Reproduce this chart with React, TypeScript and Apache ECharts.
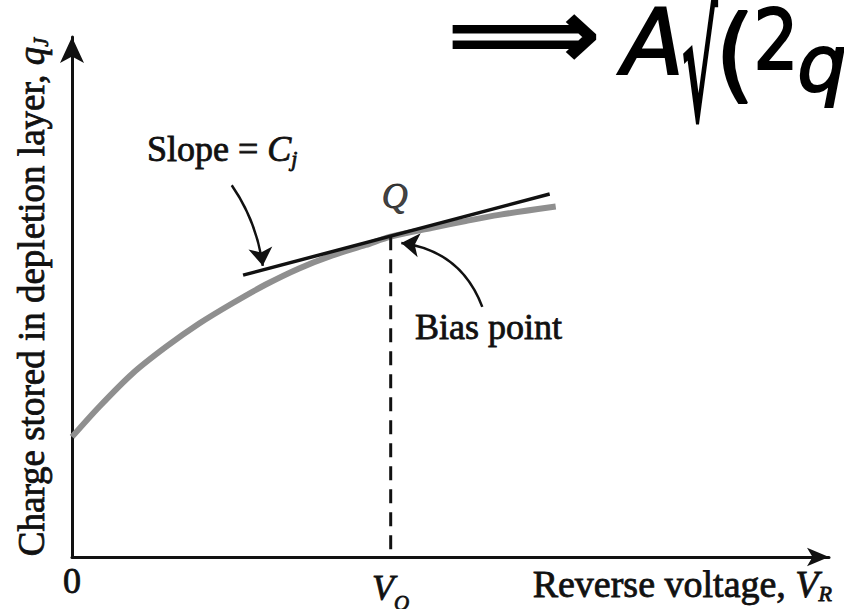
import React, { useEffect, useRef } from 'react';
import * as echarts from 'echarts';

// Depletion-layer charge versus reverse voltage (arbitrary units)
const curveVoltage = [0, 0.36, 0.8, 1.24, 1.68, 2.12, 2.56, 3.0, 3.44, 3.88, 4.21, 4.76, 5.2, 5.64, 6.39];
const curveCharge = [2.31, 2.89, 3.53, 4.04, 4.49, 4.88, 5.24, 5.55, 5.8, 6.0, 6.16, 6.33, 6.46, 6.58, 6.74];

// Operating point Q and the tangent drawn through it
const biasPoint = [4.21, 6.17];
const tangentStart = [2.26, 5.42];
const tangentEnd = [6.31, 6.98];

// Annotation arrows (from label to target)
const slopeArrow = [[2.11, 7.15], [2.52, 5.6]];
const biasArrow = [[5.42, 4.81], [4.35, 6.04]];

// Labelled positions on the voltage axis
const xTickValues = [0, 4.21];
const xTickLabels = ['{z|0}', '{v|V}{o|O}'];

const SERIF = '"Liberation Serif", "Times New Roman", serif';
const HAND = '"DejaVu Sans"';
const INK = '#111';

// shared look for serif text fragments
const serif = (size: number, lineHeight: number, extra: any = {}) => ({
  fontSize: size,
  lineHeight,
  fontFamily: SERIF,
  color: INK,
  textBorderColor: INK,
  textBorderWidth: 0.8,
  ...extra,
});

const graphicSerif = (size: number, lineHeight: number, extra: any = {}) => ({
  fontSize: size,
  lineHeight,
  fontFamily: SERIF,
  fill: INK,
  stroke: INK,
  lineWidth: 0.8,
  ...extra,
});

const hand = (x: number, y: number, text: string, size: number, extra: any = {}, scaleX = 1, scaleY = 1) => ({
  type: 'text',
  x,
  y,
  scaleX,
  scaleY,
  style: {
    text,
    fontSize: size,
    lineHeight: 56,
    fontFamily: HAND,
    fill: '#000',
    stroke: '#000',
    lineWidth: 2,
    align: 'center',
    verticalAlign: 'middle',
    ...extra,
  },
});

export default function App() {
  const ref = useRef<HTMLDivElement>(null);

  useEffect(() => {
    const chart = echarts.init(ref.current!, null, { renderer: 'svg' });

    const curveData = curveVoltage.map((v, i) => [v, curveCharge[i]]);

    const option: any = {
      animation: false,
      backgroundColor: '#ffffff',
      grid: { left: 72, right: 15, top: 37, bottom: 52, outerBoundsMode: 'none' },
      xAxis: {
        type: 'value',
        min: 0,
        max: 10,
        axisLine: {
          show: true,
          symbol: ['none', 'arrow'],
          symbolSize: [14, 22],
          lineStyle: { color: INK, width: 3 },
        },
        axisTick: { show: false },
        splitLine: { show: false },
        axisLabel: {
          customValues: xTickValues,
          margin: 6,
          formatter: (value: number) => xTickLabels[xTickValues.indexOf(value)] ?? '',
          rich: {
            z: serif(36, 36),
            v: serif(36, 50, { fontStyle: 'italic' }),
            o: serif(21, 30, { fontStyle: 'italic', verticalAlign: 'bottom' }),
          },
        },
        name: '{t|Reverse voltage, }{v|V}{s|R}',
        nameLocation: 'end',
        nameGap: 3,
        nameTextStyle: {
          align: 'right',
          verticalAlign: 'top',
          padding: [7, 0, 0, 0],
          rich: {
            t: serif(38, 40),
            v: serif(38, 40, { fontStyle: 'italic' }),
            s: serif(22, 26, { fontStyle: 'italic', verticalAlign: 'bottom' }),
          },
        },
      },
      yAxis: {
        type: 'value',
        min: 0,
        max: 10,
        axisLine: {
          show: true,
          symbol: ['none', 'arrow'],
          symbolSize: [18, 26],
          lineStyle: { color: INK, width: 3 },
        },
        axisTick: { show: false },
        axisLabel: { show: false },
        splitLine: { show: false },
        name: '{t|Charge stored in depletion layer, }{q|q}{s|J}',
        nameLocation: 'middle',
        nameRotate: 90,
        nameGap: 21,
        nameTextStyle: {
          rich: {
            t: serif(37, 40),
            q: serif(37, 40, { fontStyle: 'italic' }),
            s: serif(20, 26, { fontStyle: 'italic', verticalAlign: 'bottom' }),
          },
        },
      },
      series: [
        {
          name: 'charge',
          type: 'line',
          data: curveData,
          smooth: 0.3,
          symbol: 'none',
          lineStyle: { color: '#8f8f8f', width: 6 },
          z: 2,
        },
        {
          name: 'tangent',
          type: 'line',
          data: [tangentStart, tangentEnd],
          symbol: 'none',
          lineStyle: { color: INK, width: 3.5 },
          z: 3,
        },
        {
          name: 'bias drop',
          type: 'line',
          data: [biasPoint, [biasPoint[0], 0]],
          symbol: 'none',
          lineStyle: { color: INK, width: 3, type: [14, 9] },
          z: 3,
        },
        {
          name: 'Q',
          type: 'scatter',
          data: [biasPoint],
          symbolSize: 0,
          label: {
            show: true,
            position: 'inside',
            offset: [4, -40],
            formatter: 'Q',
            ...serif(36, 40, { fontStyle: 'italic' }),
          },
          z: 4,
        },
        {
          name: 'arrows',
          type: 'lines',
          coordinateSystem: 'cartesian2d',
          symbol: ['none', 'arrow'],
          symbolSize: [14, 18],
          lineStyle: { color: INK, width: 2.5, opacity: 1 },
          data: [
            { coords: slopeArrow, lineStyle: { curveness: 0.12 } },
            { coords: biasArrow, lineStyle: { curveness: -0.3 } },
          ],
          z: 4,
        },
      ],
      graphic: [
        {
          type: 'text',
          x: 147,
          y: 149,
          style: {
            text: '{t|Slope = }{c|C}{j|j}',
            verticalAlign: 'middle',
            align: 'left',
            rich: {
              t: graphicSerif(36, 40),
              c: graphicSerif(36, 40, { fontStyle: 'italic' }),
              j: graphicSerif(22, 24, { fontStyle: 'italic', verticalAlign: 'bottom' }),
            },
          },
        },
        {
          type: 'text',
          x: 415,
          y: 327,
          style: {
            text: 'Bias point',
            ...graphicSerif(36, 40),
            align: 'left',
            verticalAlign: 'middle',
          },
        },
        // handwritten note in the top-right corner
        hand(524, 34, '⟹', 96, { lineWidth: 3 }, 1.1),
        hand(653, 42, 'A', 90, { fontStyle: 'italic' }),
        hand(700, 68, '√', 130, { lineWidth: 4 }, 0.42, 1.15),
        hand(735, 54, '(', 104),
        hand(776, 40, '2', 84, {}, 0.85),
        hand(822, 64, 'q', 78, { fontStyle: 'italic' }),
      ],
    };

    chart.setOption(option);
    return () => chart.dispose();
  }, []);

  return (
    <div
      ref={ref}
      style={{ position: 'fixed', left: 0, top: 0, width: 844, height: 609 }}
    />
  );
}
